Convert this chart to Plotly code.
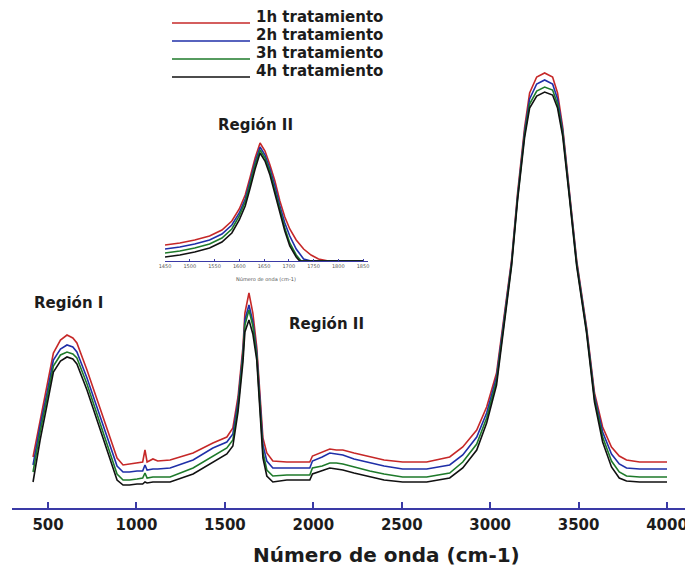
import plotly.graph_objects as go

# ---------------- main spectra data ----------------
wavenumber = [415, 455, 494, 530, 570, 607, 640, 663, 720, 777, 833, 890, 924, 960, 1003,
              1035, 1048, 1060, 1093, 1120, 1190, 1320, 1432, 1511, 1545, 1574, 1602, 1613,
              1636, 1658, 1680, 1698, 1715, 1737, 1771, 1850, 1980, 1995, 2050, 2093, 2130,
              2167, 2230, 2319, 2400, 2505, 2641, 2771, 2845, 2924, 2980, 3036, 3071, 3121,
              3155, 3195, 3223, 3263, 3308, 3353, 3381, 3410, 3449, 3489, 3545, 3590, 3636,
              3686, 3730, 3771, 3845, 4000]

h1 = [51, 88, 121, 155, 168, 173, 170, 165, 138, 108, 78, 50, 43, 44, 45,
      46, 58, 46, 49, 47, 48, 55, 65, 71, 80, 111, 161, 195,
      215, 195, 161, 111, 70, 55, 47, 46, 46, 52, 56, 59, 58,
      58, 55, 51, 48, 46, 46, 51, 61, 78, 101, 135, 181, 248,
      315, 381, 415, 431, 435, 431, 415, 381, 315, 248, 181, 115, 81,
      61, 52, 48, 46, 46]

h2 = [43, 82, 115, 148, 159, 163, 161, 156, 130, 100, 70, 42, 36, 36, 37,
      37, 43, 38, 39, 39, 40, 48, 60, 66, 74, 106, 156, 188,
      203, 186, 156, 106, 63, 47, 40, 40, 40, 47, 51, 55, 54,
      53, 49, 45, 42, 39, 39, 43, 53, 71, 95, 131, 178, 246,
      312, 377, 409, 424, 428, 424, 409, 378, 313, 246, 179, 112, 76,
      54, 44, 40, 39, 39]

h3 = [36, 76, 110, 142, 153, 156, 154, 150, 124, 94, 64, 34, 28, 28, 29,
      30, 35, 30, 31, 31, 31, 40, 52, 60, 68, 101, 152, 183,
      198, 182, 152, 102, 56, 38, 32, 33, 33, 40, 42, 45, 45,
      44, 41, 37, 34, 31, 31, 35, 46, 64, 90, 127, 175, 244,
      310, 374, 404, 417, 421, 418, 404, 375, 311, 244, 177, 109, 71,
      47, 36, 32, 31, 31]

h4 = [26, 68, 103, 136, 147, 151, 149, 144, 118, 88, 58, 28, 23, 23, 24,
      24, 26, 25, 26, 26, 26, 34, 46, 54, 62, 96, 146, 176,
      188, 174, 148, 98, 50, 32, 26, 28, 28, 34, 37, 40, 39,
      38, 35, 31, 28, 26, 26, 30, 40, 58, 85, 123, 172, 242,
      308, 371, 400, 412, 416, 413, 400, 372, 309, 242, 175, 106, 66,
      41, 30, 27, 26, 26]

# ---------------- inset (Región II) data ----------------
ins_x1 = [1450, 1480, 1510, 1540, 1565, 1585, 1600, 1612, 1622, 1632, 1642, 1652, 1662,
          1672, 1682, 1692, 1702, 1715, 1730, 1745, 1760, 1780, 1850]
ins_y1 = [16, 18, 21, 25, 31, 40, 52, 66, 84, 103, 118, 110, 96,
          80, 60, 44, 32, 21, 12, 6, 2, 0, 0]
ins_x2 = [1450, 1480, 1510, 1540, 1565, 1585, 1600, 1612, 1622, 1632, 1642, 1652, 1662,
          1672, 1682, 1692, 1702, 1715, 1730, 1745, 1850]
ins_y2 = [12, 14, 17, 21, 27, 36, 48, 62, 80, 99, 114, 106, 92,
          75, 55, 38, 25, 12, 2, 0, 0]
ins_x3 = [1450, 1480, 1510, 1540, 1565, 1585, 1600, 1612, 1622, 1632, 1642, 1652, 1662,
          1672, 1682, 1692, 1702, 1715, 1725, 1850]
ins_y3 = [8, 10, 13, 17, 23, 32, 45, 59, 77, 96, 111, 103, 89,
          71, 51, 33, 18, 6, 0, 0]
ins_x4 = [1450, 1480, 1510, 1540, 1565, 1585, 1600, 1612, 1622, 1632, 1642, 1652, 1662,
          1672, 1682, 1692, 1702, 1715, 1722, 1850]
ins_y4 = [4, 6, 9, 13, 19, 28, 41, 55, 73, 92, 108, 100, 86,
          68, 48, 30, 15, 4, 0, 0]

series_names = ["1h tratamiento", "2h tratamiento", "3h tratamiento", "4h tratamiento"]
series_colors = ["#c62828", "#1f2fa8", "#1e7a2a", "#111111"]
main_ticks = [500, 1000, 1500, 2000, 2500, 3000, 3500, 4000]
inset_ticks = [1450, 1500, 1550, 1600, 1650, 1700, 1750, 1800, 1850]

# the page body adds an 8px offset; the figure fills the rest of the window
OFF = 8
W, H = 693 - OFF, 571 - OFF
ML, MR, MT, MB = 12 - OFF, 3, 0, 63
PW, PH = W - ML - MR, H - MT - MB


def px_x(px):
    # px given in window (reference) pixels
    return (px - OFF - ML) / PW


def px_y(py):
    return (MT + PH - (py - OFF)) / PH


FONT = "DejaVu Sans"
TXT = "#1c1c1c"
AXC = "#3a3aa6"

fig = go.Figure()

main_y = [h1, h2, h3, h4]
for name, col, ys in zip(series_names, series_colors, main_y):
    fig.add_trace(go.Scatter(x=wavenumber, y=ys, mode="lines", name=name,
                             line=dict(color=col, width=1.6), showlegend=False))

ins_data = [(ins_x1, ins_y1), (ins_x2, ins_y2), (ins_x3, ins_y3), (ins_x4, ins_y4)]
for name, col, (xs, ys) in zip(series_names, series_colors, ins_data):
    fig.add_trace(go.Scatter(x=xs, y=ys, mode="lines", name=name, xaxis="x2", yaxis="y2",
                             line=dict(color=col, width=1.6), showlegend=False))

fig.update_layout(
    width=W, height=H,
    margin=dict(l=ML, r=MR, t=MT, b=MB, autoexpand=False),
    paper_bgcolor="white", plot_bgcolor="white",
    showlegend=False,
    xaxis=dict(range=[296, 4130], tickvals=main_ticks, ticks="inside", ticklen=6,
               tickwidth=1.5, tickcolor=AXC, showline=True, linecolor=AXC, linewidth=1.5,
               showgrid=False, zeroline=False, automargin=False, ticklabelstandoff=2,
               tickfont=dict(family=FONT, size=15, color=TXT, weight="bold")),
    yaxis=dict(range=[0, PH], visible=False, automargin=False),
    xaxis2=dict(domain=[px_x(165), px_x(368)], anchor="y2", range=[1450, 1860],
                tickvals=inset_ticks, ticks="inside", ticklen=2, tickcolor=AXC,
                showline=True, linecolor=AXC, linewidth=1.2, showgrid=False, zeroline=False,
                automargin=False,
                tickfont=dict(family=FONT, size=5, color="#555555")),
    yaxis2=dict(domain=[px_y(261), px_y(140)], anchor="x2", range=[0, 121], visible=False),
)

annotations = [
    dict(text="Número de onda (cm-1)", x=px_x(386), y=px_y(555), xref="paper", yref="paper",
         showarrow=False, font=dict(family=FONT, size=20, color=TXT, weight="bold"),
         xanchor="center", yanchor="middle"),
    dict(text="Región I", x=px_x(68), y=px_y(303), xref="paper", yref="paper",
         showarrow=False, font=dict(family=FONT, size=15, color=TXT, weight="bold"),
         xanchor="center", yanchor="middle"),
    dict(text="Región II", x=px_x(326), y=px_y(324), xref="paper", yref="paper",
         showarrow=False, font=dict(family=FONT, size=15, color=TXT, weight="bold"),
         xanchor="center", yanchor="middle"),
    dict(text="Región II", x=px_x(255), y=px_y(125), xref="paper", yref="paper",
         showarrow=False, font=dict(family=FONT, size=15, color=TXT, weight="bold"),
         xanchor="center", yanchor="middle"),
    dict(text="Número de onda (cm-1)", x=px_x(266), y=px_y(279), xref="paper", yref="paper",
         showarrow=False, font=dict(family=FONT, size=5, color="#555555"),
         xanchor="center", yanchor="middle"),
]

shapes = []
leg_text_y = [17, 35, 53, 71]
for i, (name, col) in enumerate(zip(series_names, series_colors)):
    ly = leg_text_y[i] + 6
    shapes.append(dict(type="line", xref="paper", yref="paper",
                       x0=px_x(172), x1=px_x(250), y0=px_y(ly), y1=px_y(ly),
                       line=dict(color=col, width=1.6)))
    annotations.append(dict(text=name, x=px_x(254), y=px_y(leg_text_y[i]), xref="paper",
                            yref="paper", showarrow=False, xanchor="left", yanchor="middle",
                            font=dict(family=FONT, size=15, color=TXT, weight="bold")))

fig.update_layout(annotations=annotations, shapes=shapes)

fig.write_html("out.html")
